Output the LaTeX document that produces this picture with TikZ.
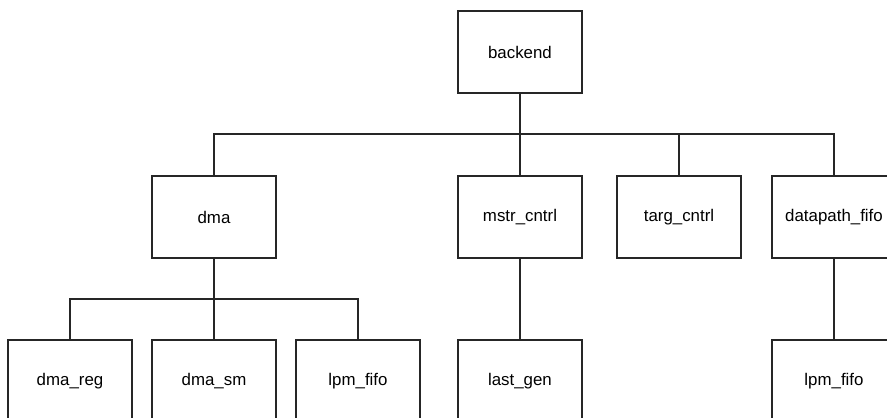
\documentclass[tikz,border=0pt]{standalone}
\usepackage{fontspec}
\setmainfont{Liberation Sans}

\tikzset{
  modul/.style={draw=black!85, line width=0.6pt, minimum width=2.48cm,
    minimum height=1.64cm, inner sep=0pt, font=\fontsize{9.6}{11}\selectfont},
  verb/.style={draw=black!85, line width=0.6pt}
}

\begin{document}
\begin{tikzpicture}[x=0.02cm, y=-0.02cm]

		%Rahmen
		\useasboundingbox (0,0) rectangle (887,417);
		\clip (0,0) rectangle (887,417);

		%Oberste Ebene
		\node[modul] (backend) at (520,52) {backend};

		%Zweite Ebene
		\node[modul] (dma) at (214,217) {dma};
		\node[modul] (mstr) at (520,217) {mstr\_cntrl};
		\node[modul] (targ) at (679,217) {targ\_cntrl};
		\node[modul] (dpfifo) at (834,217) {datapath\_fifo};

		%Dritte Ebene
		\node[modul] (dmareg) at (70,381) {dma\_reg};
		\node[modul] (dmasm) at (214,381) {dma\_sm};
		\node[modul] (lpmA) at (358,381) {lpm\_fifo};
		\node[modul] (lastgen) at (520,381) {last\_gen};
		\node[modul] (lpmB) at (834,381) {lpm\_fifo};

		%Verbindungen
		\coordinate (busA) at (520,134);
		\coordinate (busB) at (214,299);
		\draw[verb] (backend.south) -- (busA);
		\foreach \n in {dma,mstr,targ,dpfifo}
			\draw[verb] (busA) -| (\n.north);
		\draw[verb] (dma.south) -- (busB);
		\foreach \n in {dmareg,dmasm,lpmA}
			\draw[verb] (busB) -| (\n.north);
		\draw[verb] (mstr.south) -- (lastgen.north);
		\draw[verb] (dpfifo.south) -- (lpmB.north);

\end{tikzpicture}
\end{document}
